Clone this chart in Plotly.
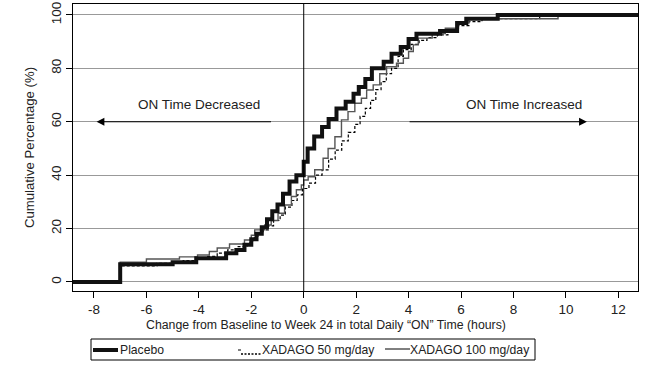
import plotly.graph_objects as go

# Step (ECDF) data: change in ON time (hours) and cumulative percentage
placebo_x = [-9, -7.0, -5.0, -4.1, -2.96, -2.57, -2.26, -2.0, -1.8, -1.6, -1.4, -1.2, -1.0, -0.79, -0.54,
             -0.28, 0.0, 0.15, 0.4, 0.7, 0.95, 1.25, 1.6, 1.9, 2.1, 2.35, 2.6, 3.05, 3.35, 3.7, 4.0,
             4.3, 5.2, 5.85, 6.2, 7.4, 13]
placebo_y = [0, 6.6, 7.4, 8.9, 10.7, 12.0, 13.9, 16.0, 18.0, 20.5, 23.5, 26.5, 29.0, 33.0, 37.6,
             40.0, 45.0, 50.0, 54.5, 58.0, 61.0, 65.0, 67.5, 70.5, 73.0, 76.0, 80.0, 82.5, 85.5, 88.0, 91.0,
             93.0, 94.0, 97.0, 98.6, 100.0, 100.0]

x50_x = [-9, -7.0, -5.6, -4.6, -4.1, -3.7, -3.3, -2.9, -2.5, -2.15, -1.95, -1.75, -1.55, -1.35, -1.15,
         -0.9, -0.7, -0.45, -0.25, -0.05, 0.2, 0.45, 0.7, 0.95, 1.2, 1.45, 1.7, 1.95, 2.15, 2.35, 2.55,
         2.75, 2.95, 3.15, 3.35, 3.6, 3.8, 4.1, 4.4, 4.7, 5.1, 5.5, 5.9, 6.3, 6.8, 9.0, 13]
x50_y = [0, 6.0, 7.0, 8.0, 8.8, 9.6, 10.8, 12.0, 13.2, 14.5, 16.5, 18.0, 19.5, 21.0, 23.0,
         25.0, 28.0, 30.5, 32.6, 35.0, 37.0, 40.0, 42.0, 46.0, 49.4, 52.8, 56.0, 59.0, 62.0, 65.0, 68.0,
         72.0, 75.0, 78.0, 80.0, 84.5, 87.0, 89.0, 90.5, 91.5, 92.5, 94.0, 96.0, 97.5, 98.6, 100.0, 100.0]

x100_x = [-9, -7.0, -6.0, -4.74, -4.05, -3.6, -3.3, -2.83, -2.26, -2.0, -1.87, -1.49, -1.24, -0.98, -0.73,
          -0.47, -0.28, -0.09, 0.0, 0.17, 0.42, 0.74, 0.93, 1.19, 1.44, 1.69, 1.95, 2.2, 2.4, 2.65,
          2.9, 3.16, 3.54, 3.8, 4.0, 4.18, 4.37, 4.9, 5.4, 5.9, 6.3, 9.7, 13]
x100_y = [0, 7.4, 8.6, 9.4, 10.1, 11.4, 12.7, 14.2, 15.7, 17.5, 19.5, 21.3, 23.0, 25.7, 28.8,
          32.0, 34.5, 36.3, 38.2, 39.4, 42.0, 46.3, 50.0, 54.4, 60.7, 63.8, 66.9, 68.8, 71.9, 73.8,
          78.0, 80.6, 81.9, 83.8, 86.3, 88.8, 91.3, 93.0, 95.0, 97.0, 98.6, 100.0, 100.0]

series_names = ["Placebo", "XADAGO 50 mg/day", "XADAGO 100 mg/day"]
x_ticks = [-8, -6, -4, -2, 0, 2, 4, 6, 8, 10, 12]
y_ticks = [0, 20, 40, 60, 80, 100]
x_title = "Change from Baseline to Week 24 in total Daily \u201cON\u201d Time (hours)"
y_title = "Cumulative Percentage (%)"

FONT = "Liberation Sans, Arial, sans-serif"
FS = 13.5
W, H = 645, 368
ML, MR, MT, MB = 73, 7, 4, 77
PW, PH = W - ML - MR, H - MT - MB


def px_x(p):  # pixel -> paper x
    return (p - ML) / PW


def px_y(p):  # pixel -> paper y
    return (H - MB - p) / PH


fig = go.Figure()
fig.add_trace(go.Scatter(x=x50_x, y=x50_y, mode="lines", line_shape="hv", name=series_names[1],
                         line=dict(color="black", width=1.2, dash="3px,2px")))
fig.add_trace(go.Scatter(x=x100_x, y=x100_y, mode="lines", line_shape="hv", name=series_names[2],
                         line=dict(color="#555555", width=1.4)))
fig.add_trace(go.Scatter(x=placebo_x, y=placebo_y, mode="lines", line_shape="hv", name=series_names[0],
                         line=dict(color="#111111", width=4)))

# vertical reference at 0
fig.add_shape(type="line", x0=0, x1=0, y0=0, y1=1, xref="x", yref="paper",
              line=dict(color="black", width=1))

# arrows and labels
fig.add_annotation(x=-7.9, y=60, ax=-1.19, ay=60, xref="x", yref="y", axref="x", ayref="y",
                   text="", showarrow=True, arrowhead=2, arrowsize=1.3, arrowwidth=1.2, arrowcolor="black")
fig.add_annotation(x=10.8, y=60, ax=3.98, ay=60, xref="x", yref="y", axref="x", ayref="y",
                   text="", showarrow=True, arrowhead=2, arrowsize=1.3, arrowwidth=1.2, arrowcolor="black")
fig.add_annotation(x=-4.0, y=66.3, xref="x", yref="y", text="ON Time Decreased", showarrow=False,
                   font=dict(family=FONT, size=FS, color="#222"))
fig.add_annotation(x=8.4, y=66.3, xref="x", yref="y", text="ON Time Increased", showarrow=False,
                   font=dict(family=FONT, size=FS, color="#222"))

# x-axis title (positioned as in the original, slightly left of the plot centre)
fig.add_annotation(x=px_x(325.5), y=px_y(325), xref="paper", yref="paper", text=x_title,
                   showarrow=False, xanchor="center", yanchor="middle",
                   font=dict(family=FONT, size=12.3, color="#222"))

# boxed legend below the axis title
LFS = 12.2
fig.add_shape(type="rect", xref="paper", yref="paper", x0=px_x(91), x1=px_x(535), y0=px_y(360), y1=px_y(339),
              line=dict(color="black", width=1), fillcolor="white")
fig.add_shape(type="line", xref="paper", yref="paper", x0=px_x(93), x1=px_x(118), y0=px_y(350), y1=px_y(350),
              line=dict(color="#111111", width=4))
fig.add_shape(type="line", xref="paper", yref="paper", x0=px_x(238), x1=px_x(241), y0=px_y(350), y1=px_y(350),
              line=dict(color="black", width=1))
fig.add_shape(type="line", xref="paper", yref="paper", x0=px_x(241), x1=px_x(262), y0=px_y(354), y1=px_y(354),
              line=dict(color="black", width=1.5, dash="2px,1.5px"))
fig.add_shape(type="line", xref="paper", yref="paper", x0=px_x(385), x1=px_x(410), y0=px_y(349), y1=px_y(349),
              line=dict(color="black", width=1))
for name, left in zip(series_names, [120, 262, 410]):
    fig.add_annotation(x=px_x(left), y=px_y(349.5), xref="paper", yref="paper", text=name,
                       showarrow=False, xanchor="left", yanchor="middle", xshift=-2,
                       font=dict(family=FONT, size=LFS, color="#222"))

fig.update_layout(
    width=W, height=H,
    margin=dict(l=ML, r=MR, t=MT, b=MB, autoexpand=False),
    paper_bgcolor="white", plot_bgcolor="white",
    font=dict(family=FONT, size=FS, color="#222"),
    showlegend=False,
)
fig.update_xaxes(range=[-8.8, 12.75], tickvals=x_ticks, ticktext=[str(v) for v in x_ticks],
                 showgrid=False, zeroline=False, showline=True, linecolor="black", linewidth=1,
                 mirror=True, ticks="outside", ticklen=6, tickcolor="black", automargin=True,
                 tickfont=dict(size=FS))
fig.update_yaxes(range=[-3.4, 104.1], tickvals=y_ticks, ticktext=[str(v) for v in y_ticks],
                 showgrid=True, gridcolor="#999999", gridwidth=1, zeroline=False,
                 showline=True, linecolor="black", linewidth=1, mirror=True, automargin=True,
                 ticks="outside", ticklen=6, tickcolor="black", tickangle=-90,
                 title=dict(text=y_title, font=dict(size=13.2), standoff=10),
                 tickfont=dict(size=FS))

fig.write_html("out.html", config={"displayModeBar": False},
               post_script="document.body.style.margin='0px';")
